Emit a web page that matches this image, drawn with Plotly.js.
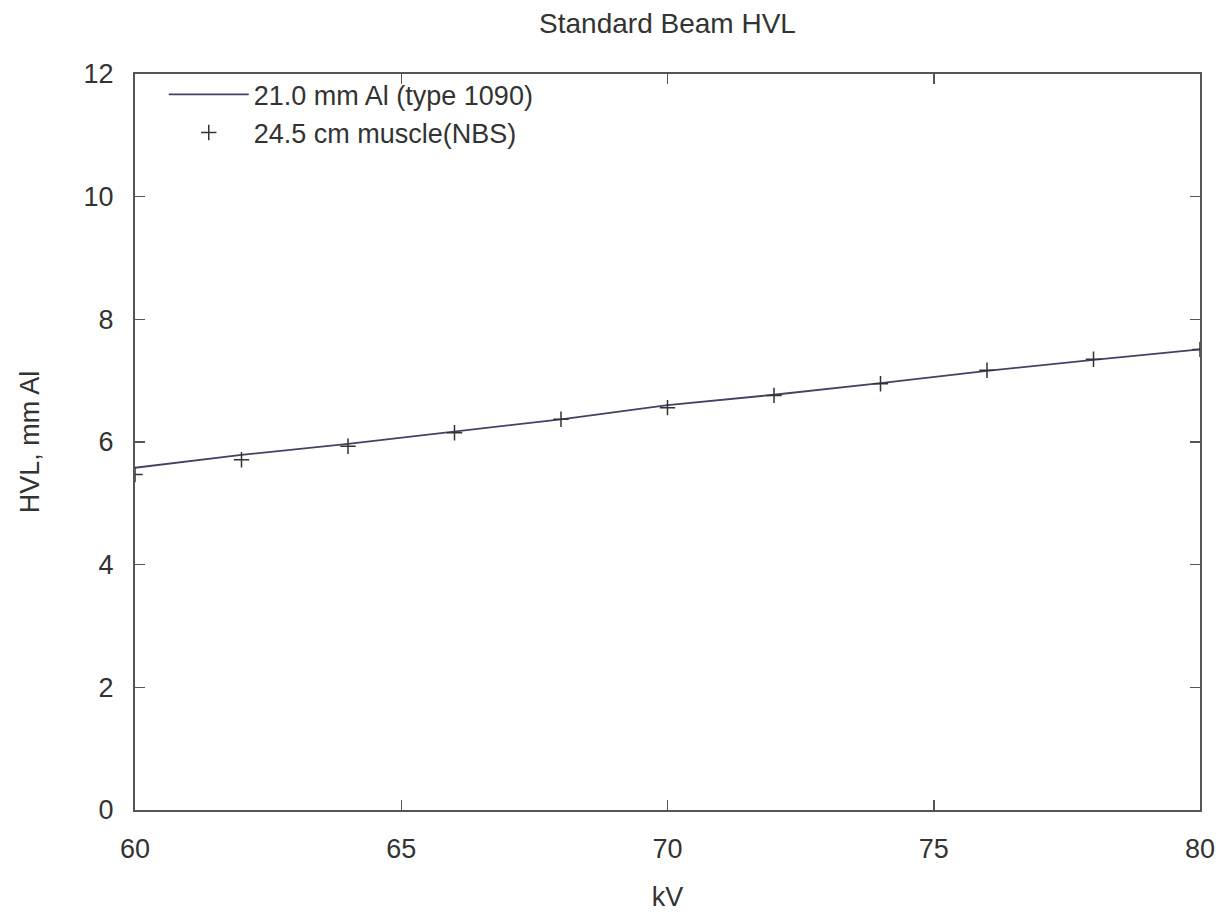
<!DOCTYPE html>
<html>
<head>
<meta charset="utf-8">
<script src="https://cdn.plot.ly/plotly-3.0.1.min.js"></script>
<style>html,body{margin:0;padding:0;background:#fff;}#chart{width:1225px;height:912px;}</style>
</head>
<body>
<div id="chart"></div>
<script>
const kV = [60, 62, 64, 66, 68, 70, 72, 74, 76, 78, 80];
const alHVL = [5.58, 5.79, 5.97, 6.17, 6.37, 6.60, 6.77, 6.96, 7.16, 7.34, 7.51];
const muscleHVL = [5.47, 5.71, 5.93, 6.15, 6.37, 6.56, 6.76, 6.95, 7.17, 7.35, 7.51];
const seriesNames = ["21.0 mm Al (type 1090)", "24.5 cm muscle(NBS)"];
const xTicks = [60, 65, 70, 75, 80];
const yTicks = [0, 2, 4, 6, 8, 10, 12];

const fam = "Liberation Sans, Arial, sans-serif";
const tickFont = {family: fam, size: 27, color: "#333"};
const titleFont = {family: fam, size: 27, color: "#333"};
const axisCommon = {
  showline: true, mirror: "ticks", linecolor: "#555", linewidth: 2,
  ticks: "inside", ticklen: 10, tickwidth: 1.5, tickcolor: "#555",
  showgrid: false, zeroline: false, tickfont: tickFont
};

Plotly.newPlot("chart", [
  {x: kV, y: alHVL, name: seriesNames[0], mode: "lines", type: "scatter",
   line: {color: "#4b3d63", width: 1.8}},
  {x: kV, y: muscleHVL, name: seriesNames[1], mode: "markers", type: "scatter",
   marker: {symbol: "cross-thin", size: 11, line: {color: "#333", width: 1.5}}}
], {
  width: 1225, height: 912,
  margin: {l: 135, r: 25, t: 74, b: 102},
  paper_bgcolor: "#fff", plot_bgcolor: "#fff",
  font: titleFont,
  title: {text: "Standard Beam HVL", x: 0.5, xref: "paper", xanchor: "center", y: 0.975, yanchor: "middle",
    font: {family: fam, size: 28, color: "#333"}},
  xaxis: Object.assign({}, axisCommon, {range: [60, 80], tickvals: xTicks, ticktext: xTicks.map(String),
    ticklabelstandoff: 14,
    title: {text: "kV", font: titleFont, standoff: 26}}),
  yaxis: Object.assign({}, axisCommon, {range: [0, 12], tickvals: yTicks, ticktext: yTicks.map(String),
    ticklabelstandoff: 14,
    title: {text: "HVL, mm Al", font: titleFont, standoff: 36}}),
  legend: {x: 0.027, y: 1.005, xanchor: "left", yanchor: "top", bgcolor: "rgba(0,0,0,0)",
    font: {family: fam, size: 27, color: "#333"}, itemwidth: 80, tracegroupgap: 0}
}, {displayModeBar: false, staticPlot: true});
</script>
</body>
</html>
